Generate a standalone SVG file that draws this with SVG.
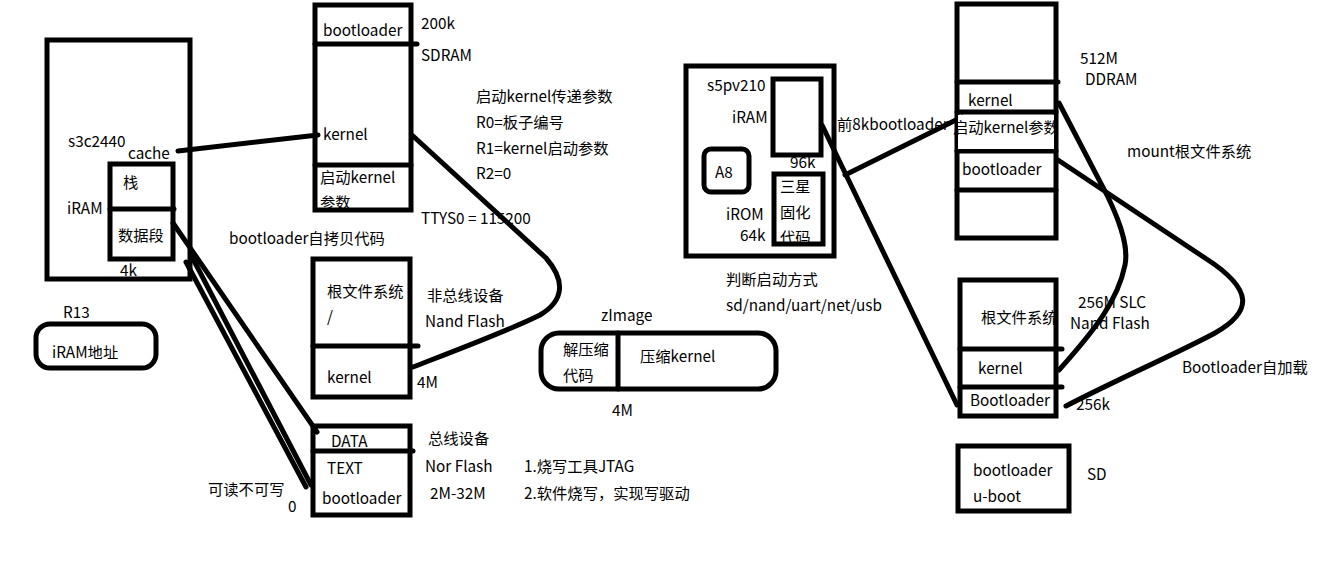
<svg xmlns="http://www.w3.org/2000/svg" width="1341" height="577" viewBox="0 0 1341 577">
<style>
.b{fill:none;stroke:#000;stroke-width:5}
.l{fill:none;stroke:#000;stroke-width:5;stroke-linecap:round}
text{font-family:"Noto Sans CJK SC","Microsoft YaHei",sans-serif;font-size:15.3px;fill:#000}
</style>
<rect width="1341" height="577" fill="#fff"/>
<g id="connectors">
<path class="l" d="M178,151 L318,135"/>
<path class="l" d="M173,223 L317,432"/>
<path class="l" d="M191,255 L311,485"/>
<path class="l" d="M186,262 L306,487"/>
<path class="l" d="M413,136 L546,258 C565,280 565,300 540,315 C510,330 470,345 413,367"/>
<path class="l" d="M822,125 L957,405"/>
<path class="l" d="M845,175 L962,117"/>
<path class="l" d="M1059,103 L1107,195 C1124,230 1128,250 1125,265 C1118,300 1095,330 1059,370"/>
<path class="l" d="M1058,160 L1205,258 C1255,290 1252,312 1215,333 C1180,352 1120,378 1066,406"/>
</g>
<g id="s3c2440">
<rect class="b" x="47" y="40" width="143" height="239"/>
<text x="68" y="147">s3c2440</text>
<text x="128" y="159">cache</text>
<text x="67" y="214">iRAM</text>
</g>
<g id="iram">
<rect class="b" x="110" y="164" width="63" height="95"/>
<path class="l" d="M110,209 L174,209"/>
<text x="123" y="188">栈</text>
<text x="118" y="241">数据段</text>
<text x="120" y="276">4k</text>
</g>
<g id="r13">
<text x="63" y="318">R13</text>
<rect class="b" x="36" y="324" width="120" height="44" rx="14"/>
<text x="52" y="358">iRAM地址</text>
</g>
<g id="sdram">
<rect class="b" x="315" y="5" width="96" height="205"/>
<path class="l" d="M315,44 L417,44"/>
<path class="l" d="M315,165 L411,165"/>
<text x="323" y="36">bootloader</text>
<text x="323" y="140">kernel</text>
<text x="320" y="183">启动kernel</text>
<text x="320" y="208">参数</text>
<text x="421" y="29">200k</text>
<text x="421" y="61">SDRAM</text>
<text x="421" y="224">TTYS0 = 115200</text>
<text x="229" y="244">bootloader自拷贝代码</text>
</g>
<g id="params">
<text x="476" y="102">启动kernel传递参数</text>
<text x="476" y="128">R0=板子编号</text>
<text x="476" y="154">R1=kernel启动参数</text>
<text x="476" y="179">R2=0</text>
</g>
<g id="nand1">
<rect class="b" x="313" y="259" width="97" height="138"/>
<path class="l" d="M313,346 L418,346"/>
<text x="327" y="297">根文件系统</text>
<text x="327" y="322">/</text>
<text x="327" y="383">kernel</text>
<text x="427" y="301">非总线设备</text>
<text x="425" y="327">Nand Flash</text>
<text x="417" y="388">4M</text>
</g>
<g id="nor">
<rect class="b" x="313" y="426" width="97" height="89"/>
<path class="l" d="M313,451 L413,451"/>
<text x="331" y="447">DATA</text>
<text x="327" y="474">TEXT</text>
<text x="322" y="504">bootloader</text>
<text x="428" y="444">总线设备</text>
<text x="425" y="472">Nor Flash</text>
<text x="430" y="499">2M-32M</text>
<text x="524" y="472">1.烧写工具JTAG</text>
<text x="524" y="499">2.软件烧写，实现写驱动</text>
<text x="208" y="495">可读不可写</text>
<text x="288" y="512">0</text>
</g>
<g id="zimage">
<text x="601" y="321">zImage</text>
<rect class="b" x="541" y="333" width="235" height="56" rx="18"/>
<path class="l" d="M618,333 L618,389"/>
<text x="563" y="355">解压缩</text>
<text x="563" y="381">代码</text>
<text x="640" y="362">压缩kernel</text>
<text x="612" y="416">4M</text>
</g>
<g id="s5pv210">
<rect class="b" x="686" y="66" width="148" height="190"/>
<text x="707" y="91">s5pv210</text>
<text x="732" y="123">iRAM</text>
<text x="726" y="220">iROM</text>
<text x="740" y="241">64k</text>
<text x="726" y="285">判断启动方式</text>
<text x="726" y="311">sd/nand/uart/net/usb</text>
</g>
<g id="s5p-iram">
<rect class="b" x="773" y="79" width="48" height="76"/>
<text x="790" y="168">96k</text>
</g>
<g id="a8">
<rect class="b" x="704" y="149" width="45" height="43" rx="7"/>
<text x="715" y="178">A8</text>
</g>
<g id="irom">
<rect class="b" x="774" y="174" width="49" height="70"/>
<text x="780" y="192">三星</text>
<text x="780" y="218">固化</text>
<text x="780" y="243">代码</text>
</g>
<text x="837" y="130">前8kbootloader</text>
<g id="ddram">
<rect class="b" x="957" y="4" width="99" height="234"/>
<path class="l" d="M957,82 L1058,82"/>
<path class="l" d="M957,112 L1056,112"/>
<path class="l" d="M957,151 L1056,151"/>
<path class="l" d="M957,190 L1056,190"/>
<text x="968" y="106">kernel</text>
<rect x="958" y="115" width="96" height="34" fill="#fff"/>
<text x="953" y="133">启动kernel参数</text>
<text x="962" y="175">bootloader</text>
<text x="1080" y="64">512M</text>
<text x="1085" y="85">DDRAM</text>
<text x="1127" y="157">mount根文件系统</text>
</g>
<g id="nand2">
<rect class="b" x="960" y="280" width="96" height="136"/>
<path class="l" d="M960,349 L1062,349"/>
<path class="l" d="M960,387 L1062,387"/>
<text x="981" y="323">根文件系统</text>
<text x="978" y="374">kernel</text>
<text x="970" y="406">Bootloader</text>
<text x="1078" y="308">256M SLC</text>
<text x="1070" y="329">Nand Flash</text>
<text x="1076" y="410">256k</text>
<text x="1182" y="373">Bootloader自加载</text>
</g>
<g id="sd">
<rect class="b" x="958" y="446" width="111" height="65"/>
<text x="973" y="476">bootloader</text>
<text x="973" y="502">u-boot</text>
<text x="1087" y="480">SD</text>
</g>
</svg>
